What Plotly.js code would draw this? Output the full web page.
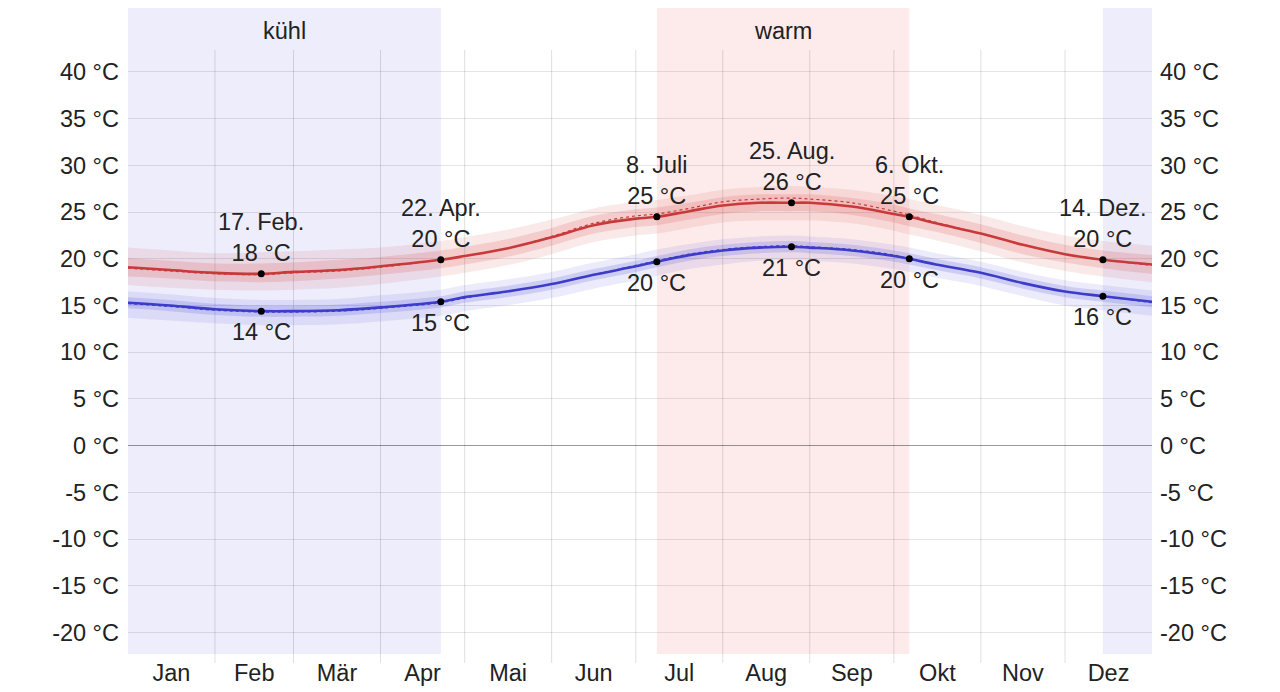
<!DOCTYPE html>
<html>
<head>
<meta charset="utf-8">
<script src="https://cdn.plot.ly/plotly-3.0.1.min.js"></script>
<style>
  html, body { margin: 0; padding: 0; background: #fff; }
  #chart { width: 1280px; height: 692px; }
</style>
</head>
<body>
<div id="chart"></div>
<script>
// Day of year (0 = start of 1 Jan) for each sampled point
const days = [0, 15, 31, 47.5, 59, 75, 90, 111.5, 120, 135, 151, 166, 181, 188.5,
              200, 212, 225, 236.5, 243, 258, 273, 278.5, 288, 304, 319, 334, 347.5, 365];

// Average daily high (°C)
const tempHigh = [19.1, 18.8, 18.5, 18.4, 18.6, 18.8, 19.2, 19.9, 20.3, 21.1, 22.3, 23.6, 24.3, 24.5,
                  25.1, 25.7, 26.0, 26.0, 26.0, 25.6, 24.8, 24.5, 23.8, 22.7, 21.5, 20.5, 19.9, 19.4];
// Perceived high (°C), dotted
const feelHigh = [19.0, 18.7, 18.4, 18.3, 18.5, 18.7, 19.1, 19.9, 20.3, 21.1, 22.4, 23.8, 24.6, 24.8,
                  25.4, 26.1, 26.4, 26.5, 26.4, 26.0, 25.1, 24.7, 23.9, 22.7, 21.5, 20.5, 19.9, 19.3];
// 25th / 75th percentile of the daily high
const highP25 = [18.1, 17.9, 17.6, 17.5, 17.6, 17.9, 18.3, 19.0, 19.4, 20.2, 21.4, 22.7, 23.4, 23.6,
                 24.2, 24.8, 25.1, 25.1, 25.1, 24.7, 23.9, 23.5, 22.9, 21.7, 20.5, 19.6, 19.0, 18.4];
const highP75 = [20.1, 19.8, 19.5, 19.5, 19.6, 19.9, 20.2, 20.9, 21.3, 22.1, 23.3, 24.6, 25.3, 25.5,
                 26.0, 26.6, 26.9, 26.9, 26.9, 26.5, 25.8, 25.4, 24.8, 23.7, 22.5, 21.5, 20.9, 20.4];
// 10th / 90th percentile of the daily high
const highP10 = [17.2, 16.9, 16.7, 16.6, 16.7, 16.9, 17.3, 18.1, 18.5, 19.3, 20.5, 21.8, 22.5, 22.7,
                 23.3, 23.9, 24.1, 24.1, 24.1, 23.8, 23.0, 22.6, 22.0, 20.8, 19.6, 18.7, 18.1, 17.5];
const highP90 = [21.2, 20.9, 20.6, 20.7, 20.8, 21.0, 21.2, 21.9, 22.3, 23.1, 24.2, 25.4, 26.1, 26.3,
                 26.8, 27.4, 27.7, 27.8, 27.7, 27.4, 26.7, 26.4, 25.8, 24.7, 23.5, 22.5, 21.9, 21.4];

// Average daily low (°C)
const tempLow  = [15.3, 15.0, 14.6, 14.4, 14.4, 14.5, 14.8, 15.4, 15.9, 16.5, 17.3, 18.3, 19.2, 19.7,
                  20.4, 20.9, 21.2, 21.3, 21.2, 20.9, 20.3, 20.0, 19.4, 18.5, 17.4, 16.5, 16.0, 15.4];
// Perceived low (°C), dotted
const feelLow  = [15.2, 14.9, 14.5, 14.3, 14.3, 14.4, 14.7, 15.3, 15.8, 16.5, 17.3, 18.3, 19.3, 19.8,
                  20.5, 21.0, 21.3, 21.4, 21.3, 21.0, 20.4, 20.0, 19.4, 18.5, 17.4, 16.5, 16.0, 15.3];
// 25th / 75th percentile of the daily low
const lowP25 = [14.7, 14.4, 14.0, 13.8, 13.8, 13.9, 14.2, 14.8, 15.3, 15.9, 16.7, 17.7, 18.6, 19.1,
                19.8, 20.3, 20.6, 20.7, 20.6, 20.3, 19.7, 19.4, 18.8, 17.9, 16.8, 15.9, 15.4, 14.8];
const lowP75 = [15.9, 15.6, 15.2, 15.0, 15.0, 15.1, 15.4, 16.0, 16.5, 17.1, 17.9, 18.9, 19.8, 20.3,
                21.0, 21.5, 21.8, 21.9, 21.8, 21.5, 20.9, 20.6, 20.0, 19.1, 18.0, 17.1, 16.6, 16.0];
// 10th / 90th percentile of the daily low
const lowP10 = [13.7, 13.4, 13.1, 12.9, 12.9, 13.0, 13.3, 13.9, 14.4, 15.0, 15.8, 16.8, 17.7, 18.2,
                18.9, 19.4, 19.8, 19.9, 19.8, 19.5, 18.9, 18.6, 18.0, 17.1, 16.0, 15.0, 14.5, 13.9];
const lowP90 = [16.5, 16.2, 15.8, 15.6, 15.6, 15.7, 16.1, 16.7, 17.2, 17.8, 18.6, 19.6, 20.5, 21.0,
                21.6, 22.1, 22.4, 22.5, 22.4, 22.1, 21.5, 21.2, 20.6, 19.7, 18.6, 17.7, 17.2, 16.6];

// Highlighted dates
const markDays   = [47.5, 111.5, 188.5, 236.5, 278.5, 347.5];
const markNames  = ['17. Feb.', '22. Apr.', '8. Juli', '25. Aug.', '6. Okt.', '14. Dez.'];
const markHigh   = [18.4, 19.9, 24.5, 26.0, 24.5, 19.9];
const markLow    = [14.4, 15.4, 19.7, 21.3, 20.0, 16.0];

// Seasons
const seasonNames = ['kühl', 'warm', ''];
const seasonStart = [0, 188.5, 347.5];
const seasonEnd   = [111.5, 278.5, 365];
const seasonKind  = ['cool', 'warm', 'cool'];

// Months
const monthNames = ['Jan', 'Feb', 'Mär', 'Apr', 'Mai', 'Jun', 'Jul', 'Aug', 'Sep', 'Okt', 'Nov', 'Dez'];
const monthLengths = [31, 28, 31, 30, 31, 30, 31, 31, 30, 31, 30, 31];

// Temperature ticks
const tempTicks = [-20, -15, -10, -5, 0, 5, 10, 15, 20, 25, 30, 35, 40];

const monthStarts = [];
const monthMids = [];
let acc = 0;
monthLengths.forEach(len => { monthStarts.push(acc); monthMids.push(acc + len / 2); acc += len; });
const tempTickText = tempTicks.map(t => t + ' °C');

const FONT = 'Liberation Sans, Arial, sans-serif';
const FS = 23.5;
const RED = 'rgb(200,58,58)';
const BLUE = 'rgb(60,60,200)';

function band(lower, upper, color) {
  return [
    { x: days, y: lower, type: 'scatter', mode: 'lines', line: { width: 0, shape: 'spline' },
      hoverinfo: 'skip', showlegend: false },
    { x: days, y: upper, type: 'scatter', mode: 'lines', line: { width: 0, shape: 'spline' },
      fill: 'tonexty', fillcolor: color, hoverinfo: 'skip', showlegend: false }
  ];
}

const traces = [
  ...band(highP10, highP90, 'rgba(215,70,70,0.12)'),
  ...band(highP25, highP75, 'rgba(215,70,70,0.18)'),
  ...band(lowP10, lowP90, 'rgba(70,70,215,0.11)'),
  ...band(lowP25, lowP75, 'rgba(70,70,215,0.18)'),
  { x: days, y: feelHigh, type: 'scatter', mode: 'lines',
    line: { color: RED, width: 1.2, dash: 'dot', shape: 'spline' }, showlegend: false },
  { x: days, y: feelLow, type: 'scatter', mode: 'lines',
    line: { color: BLUE, width: 1.2, dash: 'dot', shape: 'spline' }, showlegend: false },
  { x: days, y: tempHigh, type: 'scatter', mode: 'lines',
    line: { color: RED, width: 2.6, shape: 'spline' }, showlegend: false },
  { x: days, y: tempLow, type: 'scatter', mode: 'lines',
    line: { color: BLUE, width: 2.6, shape: 'spline' }, showlegend: false },
  { x: markDays, y: markHigh, type: 'scatter', mode: 'markers',
    marker: { color: '#000', size: 7 }, showlegend: false },
  { x: markDays, y: markLow, type: 'scatter', mode: 'markers',
    marker: { color: '#000', size: 7 }, showlegend: false },
  // right-hand temperature axis
  { x: [0], y: [0], yaxis: 'y2', type: 'scatter', mode: 'markers',
    marker: { opacity: 0 }, hoverinfo: 'skip', showlegend: false }
];

const shapes = [];
seasonStart.forEach((s, i) => {
  shapes.push({
    type: 'rect', xref: 'x', yref: 'paper', x0: s, x1: seasonEnd[i], y0: 0, y1: 1,
    fillcolor: seasonKind[i] === 'warm' ? 'rgb(253,235,235)' : 'rgb(237,237,252)',
    line: { width: 0 }, layer: 'below'
  });
});
monthStarts.slice(1).forEach(m => {
  shapes.push({
    type: 'line', xref: 'x', yref: 'paper', x0: m, x1: m, y0: -0.014, y1: 0.935,
    line: { color: 'rgba(0,0,0,0.13)', width: 1 }, layer: 'below'
  });
});

const annotations = [];
seasonNames.forEach((n, i) => {
  if (!n) return;
  annotations.push({
    x: (seasonStart[i] + seasonEnd[i]) / 2, y: 0.964, xref: 'x', yref: 'paper',
    text: n, showarrow: false, yanchor: 'middle',
    font: { family: FONT, size: FS, color: '#222' }
  });
});
markDays.forEach((d, i) => {
  annotations.push({
    x: d, y: markHigh[i], xref: 'x', yref: 'y',
    text: markNames[i] + '<br>' + Math.round(markHigh[i]) + ' °C',
    showarrow: false, yanchor: 'bottom', yshift: 6,
    font: { family: FONT, size: FS, color: '#222' }
  });
  annotations.push({
    x: d, y: markLow[i], xref: 'x', yref: 'y',
    text: Math.round(markLow[i]) + ' °C',
    showarrow: false, yanchor: 'top', yshift: -6,
    font: { family: FONT, size: FS, color: '#222' }
  });
});

const yRange = [-22.3, 46.85];
const axisFont = { family: FONT, size: FS, color: '#222' };

const layout = {
  width: 1280, height: 692,
  margin: { l: 128, r: 128, t: 8, b: 38 },
  paper_bgcolor: '#fff', plot_bgcolor: 'rgba(0,0,0,0)',
  showlegend: false,
  hovermode: false,
  xaxis: {
    range: [0, 365], showgrid: false, zeroline: false, showline: false,
    tickvals: monthMids, ticktext: monthNames, ticks: '',
    tickfont: axisFont, ticklabelstandoff: 2, fixedrange: true
  },
  yaxis: {
    range: yRange, tickvals: tempTicks, ticktext: tempTickText,
    showgrid: true, gridcolor: 'rgba(0,0,0,0.1)', gridwidth: 1,
    zeroline: true, zerolinecolor: 'rgba(0,0,0,0.4)', zerolinewidth: 1,
    showline: false, ticks: '', tickfont: axisFont, ticklabelstandoff: 8, fixedrange: true
  },
  yaxis2: {
    range: yRange, tickvals: tempTicks, ticktext: tempTickText,
    overlaying: 'y', side: 'right', showgrid: false, zeroline: false,
    showline: false, ticks: '', tickfont: axisFont, ticklabelstandoff: 7, fixedrange: true
  },
  shapes: shapes,
  annotations: annotations,
  font: { family: FONT }
};

Plotly.newPlot('chart', traces, layout, { displayModeBar: false, staticPlot: true });
</script>
</body>
</html>
